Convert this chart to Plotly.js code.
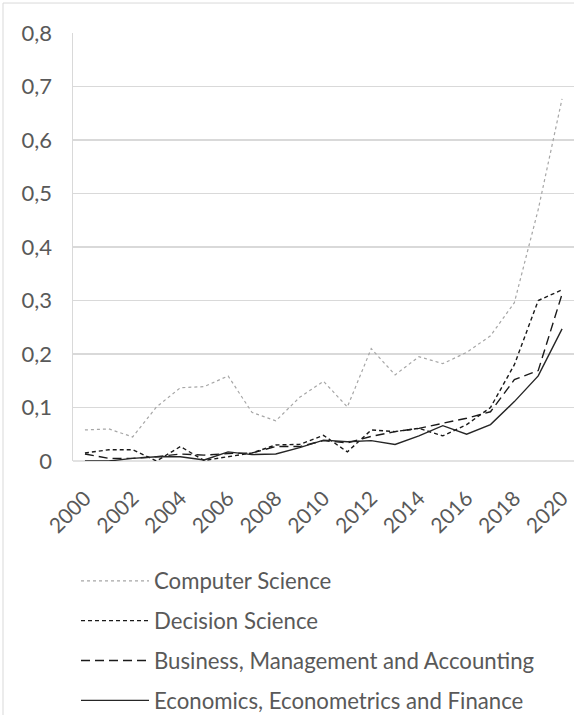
<!DOCTYPE html>
<html>
<head>
<meta charset="utf-8">
<script src="https://cdn.plot.ly/plotly-3.0.1.min.js"></script>
<style>html,body{margin:0;padding:0;background:#fff;}#chart{width:574px;height:715px;}</style>
</head>
<body>
<div id="chart"></div>
<script>
var years = [2000,2001,2002,2003,2004,2005,2006,2007,2008,2009,2010,2011,2012,2013,2014,2015,2016,2017,2018,2019,2020];
var computerScience = [0.058,0.060,0.045,0.101,0.137,0.139,0.159,0.091,0.075,0.119,0.149,0.101,0.210,0.161,0.195,0.182,0.203,0.234,0.296,0.470,0.677];
var decisionScience = [0.015,0.021,0.021,0.000,0.027,0.001,0.008,0.015,0.030,0.031,0.048,0.017,0.058,0.055,0.061,0.047,0.068,0.100,0.180,0.300,0.320];
var businessMgmt = [0.013,0.005,0.005,0.008,0.013,0.011,0.014,0.015,0.027,0.027,0.038,0.034,0.046,0.055,0.061,0.071,0.080,0.092,0.152,0.169,0.312];
var economics = [0.000,0.000,0.005,0.008,0.008,0.002,0.017,0.012,0.013,0.025,0.039,0.036,0.038,0.031,0.047,0.066,0.050,0.068,0.111,0.159,0.247];
var seriesNames = ["Computer Science","Decision Science","Business, Management and Accounting","Economics, Econometrics and Finance"];
var yTickVals = [0,0.1,0.2,0.3,0.4,0.5,0.6,0.7,0.8];
var xTickVals = [2000,2002,2004,2006,2008,2010,2012,2014,2016,2018,2020];

var FONT = "Lato, 'Open Sans', sans-serif";
var traces = [
  {x: years, y: computerScience, name: seriesNames[0], legendgroup: "a", line: {color: "#a6a6a6", width: 1.2, dash: "dot"}},
  {x: years, y: decisionScience, name: seriesNames[1], legendgroup: "b", line: {color: "#1a1a1a", width: 1.4, dash: "4px,3px"}},
  {x: years, y: businessMgmt, name: seriesNames[2], legendgroup: "c", line: {color: "#1a1a1a", width: 1.4, dash: "9px,5px"}},
  {x: years, y: economics, name: seriesNames[3], legendgroup: "d", line: {color: "#262626", width: 1.4}}
].map(function(t){ t.type = "scatter"; t.mode = "lines"; return t; });

var layout = {
  width: 574, height: 715,
  margin: {l: 73, r: 0, t: 33, b: 254, autoexpand: false},
  paper_bgcolor: "#ffffff", plot_bgcolor: "#ffffff",
  separators: ", ",
  font: {family: FONT, color: "#595959", size: 20},
  showlegend: true,
  legend: {
    x: 0.006, xanchor: "left", y: -0.231, yanchor: "top",
    orientation: "v", traceorder: "grouped", tracegroupgap: 8,
    itemwidth: 68, font: {family: FONT, size: 22.2, color: "#595959"},
    bgcolor: "rgba(0,0,0,0)"
  },
  xaxis: {
    range: [1999.5, 2020.5], tickmode: "array", tickvals: xTickVals,
    tickangle: -45, ticklabelstandoff: 20,
    showgrid: false, zeroline: false, showline: false, ticks: "",
    tickfont: {family: FONT, size: 21, color: "#595959"}
  },
  yaxis: {
    range: [0, 0.8], tickmode: "array", tickvals: yTickVals,
    tickformat: ".1~f",
    showgrid: true, gridcolor: "#d9d9d9", gridwidth: 1.5,
    zeroline: false, showline: true, linecolor: "#d9d9d9", linewidth: 1.5,
    ticks: "", ticklabelstandoff: 15,
    tickfont: {family: FONT, size: 22, color: "#595959"}
  },
  shapes: [
    {type: "line", xref: "paper", yref: "paper", x0: 0, x1: 1.02, y0: 0, y1: 0, line: {color: "#d9d9d9", width: 1.5}, layer: "below"},
    {type: "rect", xref: "paper", yref: "paper", x0: -0.1397, x1: 1.05, y0: -0.62, y1: 1.070, line: {color: "#d9d9d9", width: 1}, fillcolor: "rgba(0,0,0,0)", layer: "below"}
  ]
};

Plotly.newPlot("chart", traces, layout, {displayModeBar: false, staticPlot: true});
</script>
</body>
</html>
